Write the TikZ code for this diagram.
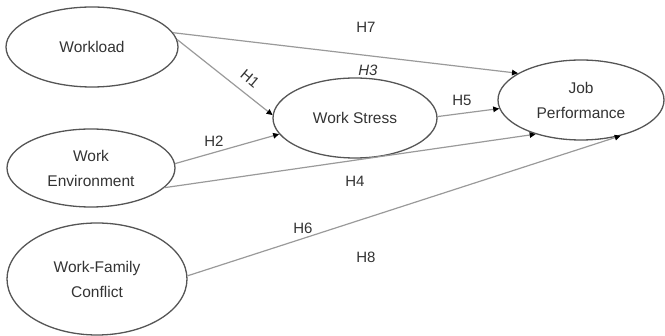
\documentclass[tikz,border=0pt]{standalone}
\usepackage{fontspec}
\setmainfont{Liberation Sans}
\usetikzlibrary{arrows.meta,shapes.geometric}
\definecolor{edgegray}{HTML}{555555}
\definecolor{linegray}{HTML}{9A9A9A}
\definecolor{txt}{HTML}{333333}
\begin{document}
\begin{tikzpicture}[x=1pt,y=-1pt,
  var/.style={ellipse,draw=edgegray,line width=1.3pt,inner sep=0pt,align=center,
    text=txt,font=\fontsize{15.5}{25}\selectfont},
  path/.style={draw=linegray,line width=1.2pt,-{Triangle[length=6pt,width=5.5pt,color=black]}},
  lbl/.style={text=txt,font=\fontsize{15}{18}\selectfont,inner sep=1pt}]
\useasboundingbox (0,0) rectangle (665,336);
\node[var,minimum width=172pt,minimum height=80pt] (wl) at (92,47) {Workload};
\node[var,minimum width=168pt,minimum height=78pt] (we) at (91,168) {Work\\Environment};
\node[var,minimum width=180pt,minimum height=112pt] (wfc) at (97,279) {Work-Family\\Conflict};
\node[var,minimum width=164pt,minimum height=80pt] (ws) at (355,118) {Work Stress};
\node[var,minimum width=166pt,minimum height=80pt] (jp) at (581,100) {Job\\Performance};
\draw[path] (wl.10) -- (jp.157);
\draw[path] (wl.5) -- (ws.178);
\draw[path] (we.3) -- (ws.192);
\draw[path] (ws.1) -- (jp.186);
\draw[path] (we.-15) -- (jp.217);
\draw[path] (wfc.2) -- (jp.-42);
\node[lbl] (l7) at (366,27) {H7};
\node[lbl,rotate=-40] (l1) at (250,79) {H1};
\node[lbl,font=\fontsize{15}{18}\selectfont\itshape] (l3) at (368,70) {H3};
\node[lbl] (l2) at (214,141) {H2};
\node[lbl] (l5) at (462,100) {H5};
\node[lbl] (l4) at (355,181) {H4};
\node[lbl] (l6) at (303,228) {H6};
\node[lbl] (l8) at (366,257) {H8};
\end{tikzpicture}
\end{document}
